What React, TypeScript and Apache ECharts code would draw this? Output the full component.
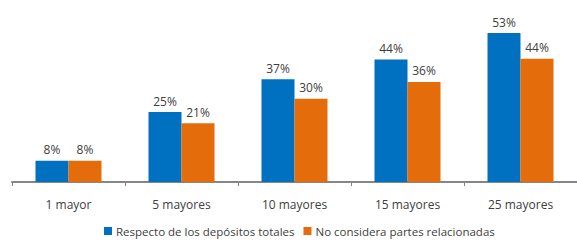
import React, { useEffect, useRef } from "react";
import * as echarts from "echarts";

const categories = ["1 mayor", "5 mayores", "10 mayores", "15 mayores", "25 mayores"];
const seriesNames = ["Respecto de los depósitos totales", "No considera partes relacionadas"];
const totalDeposits = [7.6, 24.9, 36.6, 43.6, 53.0];
const excludingRelated = [7.6, 20.9, 29.6, 35.6, 43.9];

export default function App() {
  const ref = useRef<HTMLDivElement>(null);
  useEffect(() => {
    if (!ref.current) return;
    const chart = echarts.init(ref.current, undefined, { renderer: "svg" });
    const font = "Open Sans";
    const labelStyle = {
      show: true,
      position: "top" as const,
      distance: 5,
      color: "#404040",
      fontSize: 12,
      fontFamily: font,
      formatter: (p: any) => Math.round(p.value) + "%",
    };
    chart.setOption({
      animation: false,
      textStyle: { fontFamily: font },
      legend: {
        bottom: 0,
        left: 99,
        itemWidth: 8,
        itemHeight: 8,
        itemGap: 9,
        icon: "rect",
        textStyle: { color: "#404040", fontSize: 11.5, fontFamily: font, padding: [0, 0, 0, -1] },
        data: seriesNames,
      },
      grid: { left: 12, right: -4, top: 13.4, bottom: 60, containLabel: false },
      xAxis: {
        type: "category",
        data: categories,
        axisLine: { lineStyle: { color: "#868686", width: 2 } },
        axisTick: { show: true, alignWithLabel: false, length: 4, lineStyle: { color: "#868686", width: 1 } },
        axisLabel: { color: "#404040", fontSize: 12, fontFamily: font, margin: 16 },
      },
      yAxis: {
        type: "value",
        min: 0,
        max: 60,
        show: false,
        splitLine: { show: false },
      },
      series: [
        {
          name: seriesNames[0],
          type: "bar",
          data: totalDeposits,
          barWidth: 33,
          barGap: "0%",
          itemStyle: { color: "#0070C0" },
          label: labelStyle,
        },
        {
          name: seriesNames[1],
          type: "bar",
          data: excludingRelated,
          barWidth: 33,
          barGap: "0%",
          itemStyle: { color: "#E46C0A" },
          label: labelStyle,
        },
      ],
    });
    return () => chart.dispose();
  }, []);
  return <div ref={ref} style={{ width: 577, height: 242, position: "absolute", left: 0, top: 0 }} />;
}
